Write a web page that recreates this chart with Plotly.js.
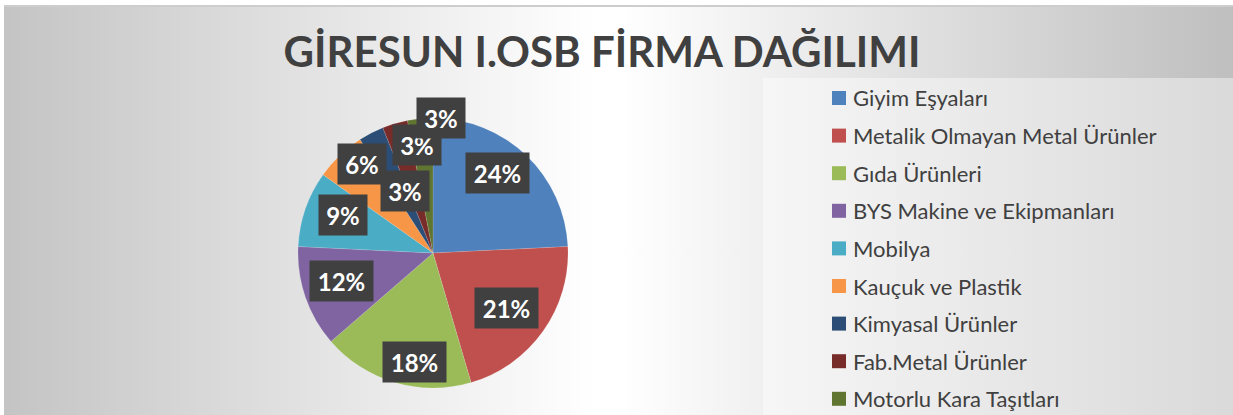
<!DOCTYPE html>
<html>
<head>
<meta charset="utf-8">
<script src="https://cdn.plot.ly/plotly-3.0.1.min.js"></script>
<style>
  html, body { margin:0; padding:0; background:#ffffff; }
  #wrap { position:relative; width:1233px; height:415px; overflow:hidden; }
  #bg { position:absolute; left:4px; top:5px; right:0; bottom:0;
        border-top:2px solid #cdcdcd;
        background: linear-gradient(to right, #c4c4c4 0%, #ffffff 48%, #ffffff 50%, #bfbfbf 100%); }
  #chart { position:absolute; left:0; top:0; width:1233px; height:415px; }
</style>
</head>
<body>
<div id="wrap"><div id="bg"></div><div id="chart"></div></div>
<script>
// ---- data ----
const chartTitle = "GİRESUN I.OSB FİRMA DAĞILIMI";
const categories = [
  "Giyim Eşyaları",
  "Metalik Olmayan Metal Ürünler",
  "Gıda Ürünleri",
  "BYS Makine ve Ekipmanları",
  "Mobilya",
  "Kauçuk ve Plastik",
  "Kimyasal Ürünler",
  "Fab.Metal Ürünler",
  "Motorlu Kara Taşıtları"
];
const firmCounts = [8, 7, 6, 4, 3, 2, 1, 1, 1];
const sliceColors = ["#4F81BD", "#C0504D", "#9BBB59", "#8064A2", "#4BACC6",
                     "#F79646", "#2C4D75", "#772C2A", "#5F7530"];

// ---- style (label placement relative to slice) ----
const labelRadius = [0.76, 0.68, 0.82, 0.71, 0.72, 0.84, 0.50, 0.81, 1.0];
const labelNudgeDeg = [-4.5, 1, -6.6, 2.2, 3.7, 5, 3, 7.7, 9];

const W = 1233, H = 415;
const pieDomain = { x: [298 / W, 568 / W], y: [1 - 388 / H, 1 - 118 / H] };
const FONT = "Lato, 'Open Sans', sans-serif";
const TEXT = "#404040";

const cx = (pieDomain.x[0] + pieDomain.x[1]) / 2 * W;
const cy = (1 - (pieDomain.y[0] + pieDomain.y[1]) / 2) * H;
const R = Math.min((pieDomain.x[1] - pieDomain.x[0]) * W, (pieDomain.y[1] - pieDomain.y[0]) * H) / 2;

const total = firmCounts.reduce((a, b) => a + b, 0);
const annotations = [];
const shapes = [];

// legend panel
shapes.push({ type: "rect", xref: "paper", yref: "paper", x0: 763 / W, x1: 1.01, y0: -0.01, y1: 1 - 78 / H,
  fillcolor: "rgba(255,255,255,0.42)", line: { width: 0 }, layer: "below" });

// percentage labels
let cum = 0;
firmCounts.forEach((v, i) => {
  const mid = ((cum + v / 2) / total * 360 + labelNudgeDeg[i]) * Math.PI / 180;
  cum += v;
  const r = R * labelRadius[i];
  const px = cx + r * Math.sin(mid), py = cy - r * Math.cos(mid);
  const txt = Math.round(v / total * 100) + "%";
  annotations.push({
    xref: "paper", yref: "paper", x: px / W, y: 1 - py / H,
    xanchor: "center", yanchor: "middle", showarrow: false,
    text: "<b>" + txt + "</b>",
    font: { family: FONT, size: 24, color: "#ffffff" },
    bgcolor: "#404040", borderpad: 0,
    width: 15 * txt.length + 18, height: 40, align: "center", valign: "middle"
  });
});

// custom legend
const legX = 832, legY0 = 98, legStep = 37.6, sw = 14;
categories.forEach((c, i) => {
  const y = legY0 + i * legStep;
  shapes.push({ type: "rect", xref: "paper", yref: "paper",
    x0: legX / W, x1: (legX + sw) / W, y0: 1 - (y + sw / 2) / H, y1: 1 - (y - sw / 2) / H,
    fillcolor: sliceColors[i], line: { width: 0 } });
  annotations.push({ xref: "paper", yref: "paper", x: (legX + sw + 5) / W, y: 1 - y / H,
    xanchor: "left", yanchor: "middle", showarrow: false, text: c,
    font: { family: FONT, size: 22, color: TEXT } });
});

const trace = {
  type: "pie",
  labels: categories,
  values: firmCounts,
  marker: { colors: sliceColors, line: { color: "rgba(255,255,255,0.25)", width: 0.5 } },
  sort: false,
  direction: "clockwise",
  rotation: 0,
  textinfo: "none",
  hoverinfo: "label+percent",
  domain: pieDomain,
  showlegend: false
};

const layout = {
  width: W, height: H,
  margin: { l: 0, r: 0, t: 0, b: 0 },
  paper_bgcolor: "rgba(0,0,0,0)",
  plot_bgcolor: "rgba(0,0,0,0)",
  showlegend: false,
  title: { text: "<b>" + chartTitle + "</b>", x: 602 / W, xanchor: "center",
           y: 1 - 52 / H, yanchor: "middle", yref: "paper",
           font: { family: FONT, size: 42, color: TEXT } },
  shapes: shapes,
  annotations: annotations
};

Plotly.newPlot("chart", [trace], layout, { displayModeBar: false, staticPlot: true });
</script>
</body>
</html>
